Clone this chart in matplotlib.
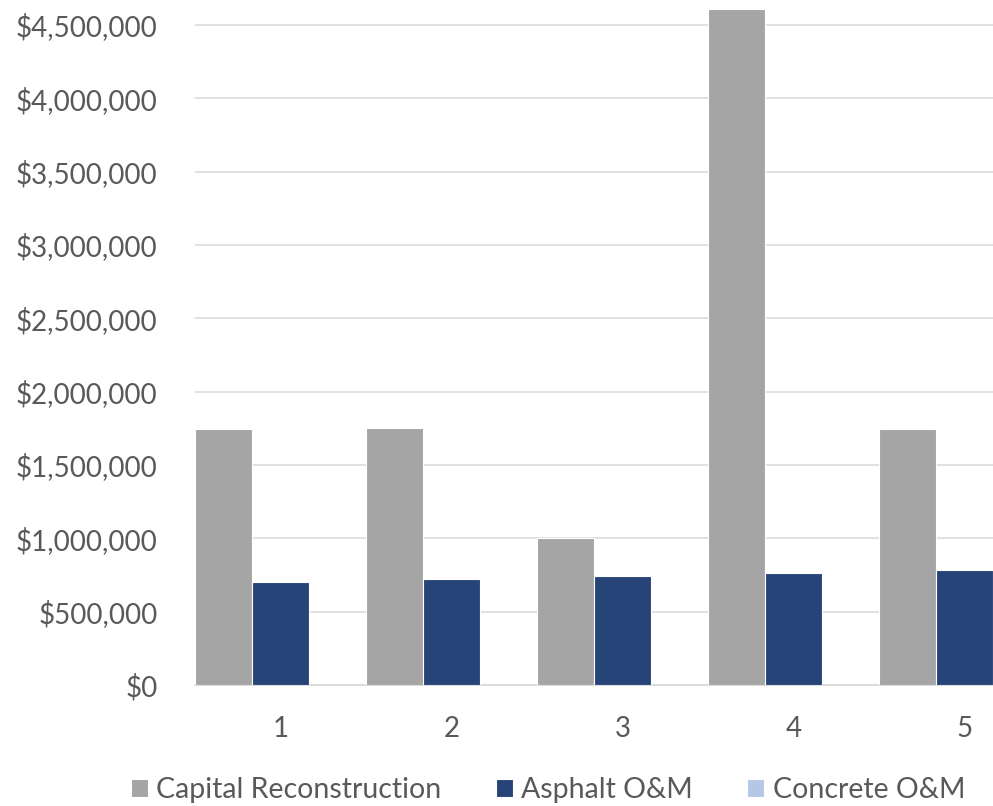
import numpy as np
import matplotlib
matplotlib.use("Agg")
import matplotlib.pyplot as plt
from matplotlib.ticker import FuncFormatter

plt.rcParams['font.family'] = ['Lato', 'DejaVu Sans']

# Annual costs by year
years = [1, 2, 3, 4, 5]
capital = [1745000, 1752000, 1000000, 4608000, 1745000]
asphalt = [702000, 722000, 743000, 763000, 784000]
concrete = [0, 0, 0, 0, 0]

series = ["Capital Reconstruction", "Asphalt O&M", "Concrete O&M"]
colors = ["#A5A5A5", "#264478", "#B4C7E7"]
y_ticks = np.arange(0, 4500001, 500000)

fig = plt.figure(figsize=(9.93, 8.06), dpi=100)
# plot area runs past the right and top edges of the canvas
ax = fig.add_axes([195 / 993, 121 / 806, 855 / 993, 733.5 / 806])

x = np.array(years)
w = 1 / 3
for i, (vals, name, c) in enumerate(zip([capital, asphalt, concrete], series, colors)):
    ax.bar(x + (i - 1) * w, vals, width=w, color=c, edgecolor="white",
           linewidth=0.8, label=name, zorder=3)

ax.set_xlim(0.5, 5.5)
ax.set_ylim(0, 5000000)
ax.set_yticks(y_ticks)
ax.yaxis.set_major_formatter(FuncFormatter(lambda v, p: f"${v:,.0f}"))
ax.set_xticks(years)

ax.grid(axis="y", color="#D9D9D9", linewidth=1.1, zorder=0)
for s in ["top", "right", "left"]:
    ax.spines[s].set_visible(False)
ax.spines["bottom"].set_color("#D9D9D9")
ax.spines["bottom"].set_linewidth(1.3)
ax.tick_params(axis="both", length=0, labelsize=20, colors="#595959")
ax.tick_params(axis="y", pad=27)
ax.tick_params(axis="x", pad=22)

fig.legend(loc="center", bbox_to_anchor=(548 / 993, 1 - 790 / 806), ncol=3,
           frameon=False, fontsize=20.5, labelcolor="#595959",
           handlelength=0.6, handleheight=0.6, handletextpad=0.3,
           columnspacing=1.9)

fig.savefig("out.png", dpi=100)
